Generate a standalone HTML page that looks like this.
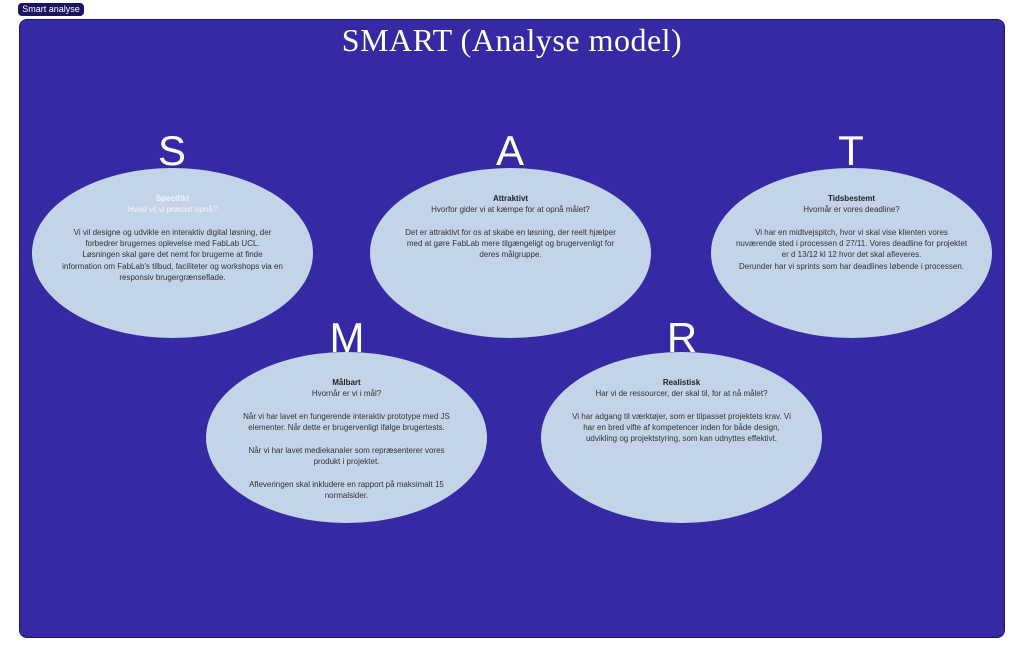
<!DOCTYPE html>
<html><head><meta charset="utf-8"><style>
body{margin:0;width:1024px;height:658px;background:#fff;position:relative;overflow:hidden;font-family:"Liberation Sans",sans-serif}
.tag{position:absolute;left:18px;top:3px;width:66px;height:13px;background:#1c1461;border-radius:4px;color:#fff;font-size:9px;line-height:13px;text-align:center}
.frame{position:absolute;left:19px;top:19px;width:984px;height:617px;background:#3629a4;border:1px solid #1c1461;border-radius:8px}
.title{position:absolute;left:0;width:1024px;top:22px;text-align:center;color:#fff;font-family:"Liberation Serif",serif;font-size:32px;letter-spacing:0.5px}
.L{position:absolute;width:80px;text-align:center;color:#fff;font-size:42px;line-height:44px}
.e{position:absolute;width:281px;height:170px;border-radius:50%;background:#c3d3e8;color:#333;font-size:8px;line-height:11.3px;text-align:center;box-sizing:border-box;padding:0 30px}
.e b{color:#222}
</style></head><body>
<div class="tag">Smart analyse</div>
<div class="frame"></div>
<div class="title">SMART (Analyse model)</div>
<div class="L" style="left:132px;top:129px">S</div>
<div class="L" style="left:470px;top:129px">A</div>
<div class="L" style="left:811px;top:129px">T</div>
<div class="L" style="left:307px;top:316px">M</div>
<div class="L" style="left:642px;top:316px">R</div>
<div class="e" style="left:32px;top:168px;padding-top:25px"><b style="color:#f2f5fb">Specifikt</b><br><span style="color:#f2f5fb">Hvad vil vi præcist opnå?</span><br><br>Vi vil designe og udvikle en interaktiv digital løsning, der forbedrer brugernes oplevelse med FabLab UCL.<br>Løsningen skal gøre det nemt for brugerne at finde information om FabLab's tilbud, faciliteter og workshops via en responsiv brugergrænseflade.</div>
<div class="e" style="left:370px;top:168px;padding-top:25px"><b>Attraktivt</b><br>Hvorfor gider vi at kæmpe for at opnå målet?<br><br>Det er attraktivt for os at skabe en løsning, der reelt hjælper med at gøre FabLab mere tilgængeligt og brugervenligt for deres målgruppe.</div>
<div class="e" style="left:711px;top:168px;padding-top:25px;padding-left:24px;padding-right:24px"><b>Tidsbestemt</b><br>Hvornår er vores deadline?<br><br>Vi har en midtvejspitch, hvor vi skal vise klienten vores nuværende sted i processen d 27/11. Vores deadline for projektet er d 13/12 kl 12 hvor det skal afleveres.<br>Derunder har vi sprints som har deadlines løbende i processen.</div>
<div class="e" style="left:206px;top:352px;height:171px;padding-top:25px"><b>Målbart</b><br>Hvornår er vi i mål?<br><br>Når vi har lavet en fungerende interaktiv prototype med JS elementer. Når dette er brugervenligt ifølge brugertests.<br><br>Når vi har lavet mediekanaler som repræsenterer vores produkt i projektet.<br><br>Afleveringen skal inkludere en rapport på maksimalt 15 normalsider.</div>
<div class="e" style="left:541px;top:352px;height:171px;padding-top:25px;padding-left:26px;padding-right:26px"><b>Realistisk</b><br>Har vi de ressourcer, der skal til, for at nå målet?<br><br>Vi har adgang til værktøjer, som er tilpasset projektets krav. Vi har en bred vifte af kompetencer inden for både design, udvikling og projektstyring, som kan udnyttes effektivt.</div>
</body></html>
